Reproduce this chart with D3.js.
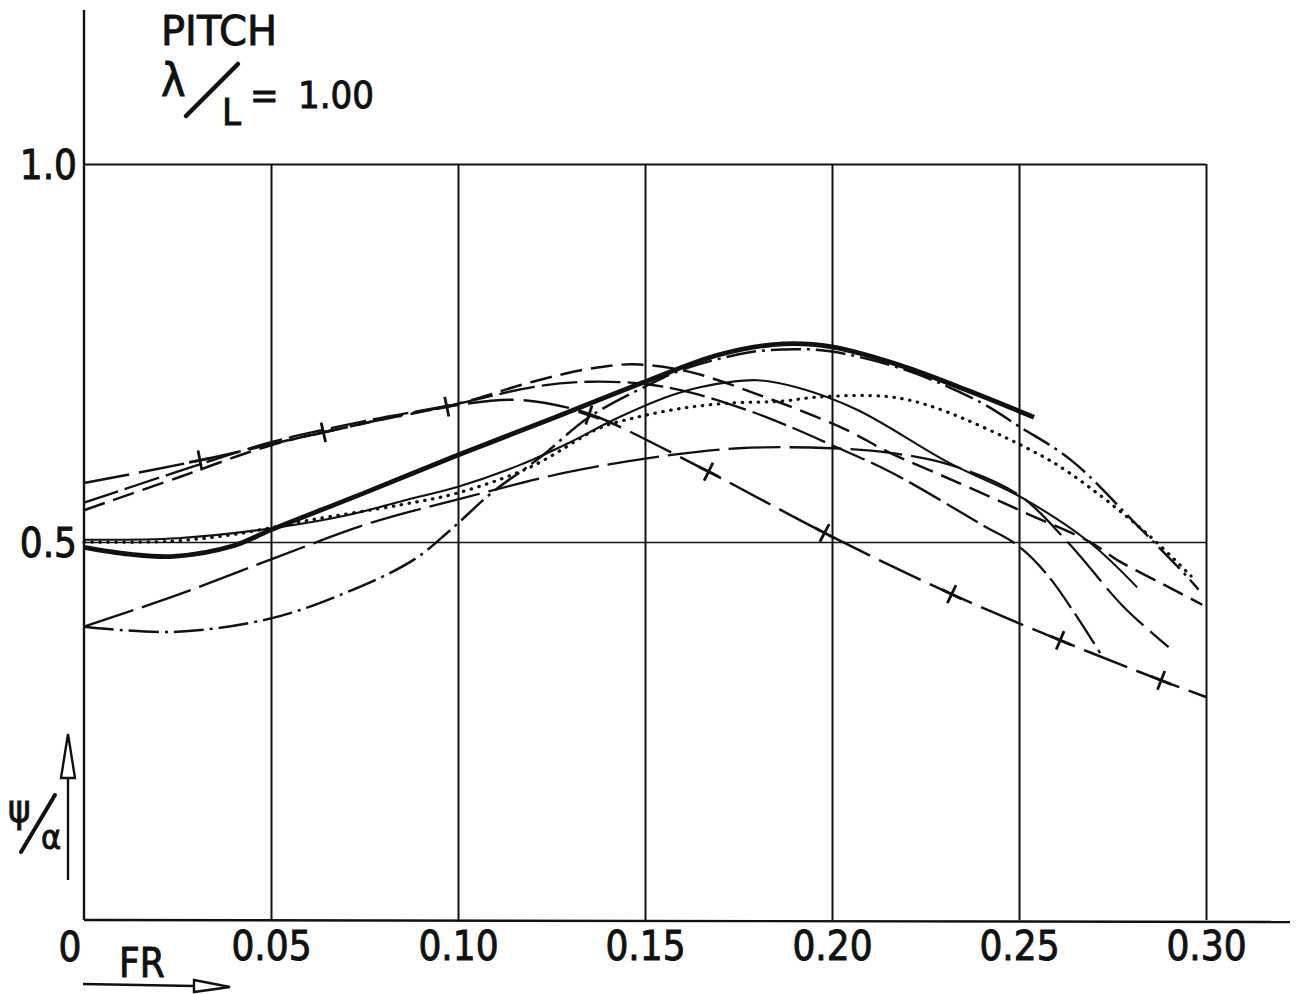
<!DOCTYPE html>
<html>
<head>
<meta charset="utf-8">
<script src="https://cdn.jsdelivr.net/npm/d3@7"></script>
<style>
  html, body { margin: 0; padding: 0; background: #fff; }
  svg { display: block; }
  text { font-family: "DejaVu Sans Condensed", "Liberation Sans Narrow", "DejaVu Sans", sans-serif; font-stretch: condensed; fill: #111; stroke: #111; stroke-width: 0.9px; }
</style>
</head>
<body>
<svg id="chart" width="1301" height="994"></svg>
<script>
// Pitch response psi/alpha against Froude number, lambda/L = 1.00

const frTicks = [0.05, 0.10, 0.15, 0.20, 0.25, 0.30];
const psiTicks = [0.5, 1.0];

// heavy solid curve
const frA  = [0, 0.012, 0.024, 0.04, 0.05, 0.075, 0.10, 0.125, 0.15, 0.17, 0.187, 0.20, 0.218, 0.236, 0.254];
const psiA = [0.493, 0.484, 0.481, 0.495, 0.516, 0.565, 0.615, 0.663, 0.712, 0.748, 0.762, 0.758, 0.734, 0.701, 0.665];

// long dash-dot curve
const frB  = [0, 0.024, 0.05, 0.07, 0.088, 0.098, 0.109, 0.122, 0.135, 0.151, 0.16, 0.178, 0.191, 0.20, 0.22, 0.24, 0.25, 0.264, 0.282, 0.295, 0.298];
const psiB = [0.388, 0.381, 0.399, 0.433, 0.476, 0.516, 0.565, 0.612, 0.665, 0.708, 0.728, 0.751, 0.755, 0.752, 0.727, 0.684, 0.653, 0.608, 0.52, 0.454, 0.437];

// dashed curve with cross marks
const frC  = [0, 0.031, 0.064, 0.097, 0.116, 0.13, 0.138, 0.167, 0.198, 0.232, 0.261, 0.288, 0.30];
const psiC = [0.578, 0.608, 0.645, 0.679, 0.688, 0.677, 0.664, 0.593, 0.512, 0.431, 0.370, 0.317, 0.295];
const crossFR  = [0.031, 0.064, 0.097, 0.135, 0.167, 0.198, 0.232, 0.261, 0.288];
const crossPsi = [0.608, 0.645, 0.679, 0.668, 0.593, 0.512, 0.431, 0.370, 0.317];

// short-dash curve, early peak
const frD  = [0, 0.025, 0.05, 0.075, 0.10, 0.12, 0.135, 0.147, 0.162, 0.183, 0.191, 0.204, 0.2155, 0.234, 0.252, 0.269, 0.277, 0.289, 0.299];
const psiD = [0.542, 0.585, 0.628, 0.657, 0.683, 0.712, 0.729, 0.735, 0.725, 0.69, 0.675, 0.648, 0.618, 0.578, 0.538, 0.50, 0.474, 0.443, 0.417];

// long-dash curve, steep fall
const frE  = [0, 0.025, 0.05, 0.075, 0.10, 0.12, 0.135, 0.15, 0.162, 0.177, 0.189, 0.20, 0.2155, 0.2404, 0.2495, 0.258, 0.2717];
const psiE = [0.552, 0.593, 0.632, 0.66, 0.683, 0.705, 0.712, 0.709, 0.698, 0.675, 0.652, 0.628, 0.593, 0.522, 0.496, 0.454, 0.353];

// extra-long-dash curve with plateau
const frF  = [0, 0.025, 0.0516, 0.0765, 0.1013, 0.128, 0.151, 0.175, 0.20, 0.2155, 0.2316, 0.25, 0.263, 0.278, 0.29];
const psiF = [0.388, 0.43, 0.48, 0.525, 0.558, 0.591, 0.611, 0.624, 0.624, 0.618, 0.602, 0.562, 0.50, 0.414, 0.361];

// thin solid curve
const frG  = [0, 0.025, 0.05, 0.07, 0.0864, 0.10, 0.1166, 0.13, 0.1414, 0.156, 0.165, 0.18, 0.191, 0.2067, 0.2316, 0.251, 0.269, 0.2816];
const psiG = [0.503, 0.505, 0.518, 0.535, 0.556, 0.573, 0.602, 0.632, 0.661, 0.692, 0.705, 0.714, 0.704, 0.675, 0.604, 0.558, 0.499, 0.44];

// dotted curve
const frH  = [0, 0.023, 0.04, 0.0604, 0.0845, 0.10, 0.1193, 0.138, 0.147, 0.16, 0.1735, 0.186, 0.197, 0.2155, 0.228, 0.253, 0.2636, 0.284, 0.296];
const psiH = [0.50, 0.501, 0.51, 0.529, 0.549, 0.565, 0.599, 0.651, 0.664, 0.677, 0.684, 0.686, 0.692, 0.692, 0.677, 0.622, 0.591, 0.512, 0.455];

const svg = d3.select("#chart");
const W = 1301, H = 994;
svg.append("rect").attr("width", W).attr("height", H).attr("fill", "#fff");

const x = d3.scaleLinear().domain([0, 0.30]).range([84, 1206]);
const y = d3.scaleLinear().domain([0, 1]).range([920, 164]);

const ink = "#111";

// vertical grid lines and FR tick labels
const gx = svg.append("g")
  .attr("transform", `translate(0,${y(0)})`)
  .call(d3.axisBottom(x).tickValues(frTicks).tickFormat(d3.format(".2f"))
    .tickSizeInner(-(y(0) - y(1))).tickSizeOuter(0).tickPadding(12));
gx.select(".domain").remove();
gx.selectAll(".tick line").attr("stroke", ink).attr("stroke-width", 2);
gx.selectAll(".tick text").attr("font-size", 40).attr("fill", ink);

// horizontal grid lines and psi/alpha tick labels
const gy = svg.append("g")
  .attr("transform", `translate(${x(0)},0)`)
  .call(d3.axisLeft(y).tickValues(psiTicks).tickFormat(d3.format(".1f"))
    .tickSizeInner(-(x(0.30) - x(0))).tickSizeOuter(0).tickPadding(7));
gy.select(".domain").remove();
gy.selectAll(".tick line").attr("stroke", ink)
  .attr("stroke-width", d => d === 1.0 ? 2 : 1.3);
gy.selectAll(".tick text").attr("font-size", 40).attr("fill", ink).attr("dy", "0.36em");

// axes
svg.append("line").attr("x1", x(0)).attr("x2", x(0))
  .attr("y1", 10).attr("y2", y(0))
  .attr("stroke", ink).attr("stroke-width", 2.4);
svg.append("line").attr("x1", x(0)).attr("x2", x(0.30) + 84)
  .attr("y1", y(0)).attr("y2", y(0) + 2)
  .attr("stroke", ink).attr("stroke-width", 2.4);
svg.append("text").attr("x", x(0) - 14).attr("y", y(0) + 41)
  .attr("text-anchor", "middle").attr("font-size", 40).text("0");

// curves
const line = d3.line()
  .x(d => x(d[0])).y(d => y(d[1]))
  .curve(d3.curveCatmullRom.alpha(0.5));

const curves = [
  { fr: frA, psi: psiA, w: 4.8, dash: null },
  { fr: frB, psi: psiB, w: 2.5, dash: "30,6,3,6" },
  { fr: frC, psi: psiC, w: 2.5, dash: "46,10" },
  { fr: frD, psi: psiD, w: 2.5, dash: "22,9" },
  { fr: frE, psi: psiE, w: 2.3, dash: "36,7" },
  { fr: frF, psi: psiF, w: 2.3, dash: "52,9" },
  { fr: frG, psi: psiG, w: 2.1, dash: null },
  { fr: frH, psi: psiH, w: 3.2, dash: "0.5,7.5", cap: "round" }
];

curves.forEach(c => {
  svg.append("path")
    .datum(c.fr.map((f, i) => [f, c.psi[i]]))
    .attr("d", line)
    .attr("fill", "none")
    .attr("stroke", ink)
    .attr("stroke-width", c.w)
    .attr("stroke-dasharray", c.dash)
    .attr("stroke-linecap", c.cap || "butt")
    .attr("stroke-linejoin", "round");
});

// cross marks on the dashed curve, turned to follow the curve
function slopeAngle(fr) {
  let i = 0;
  while (i < frC.length - 2 && frC[i + 1] < fr) i++;
  const dx = x(frC[i + 1]) - x(frC[i]);
  const dy = y(psiC[i + 1]) - y(psiC[i]);
  return Math.atan2(dy, dx) * 180 / Math.PI;
}
const crosses = svg.append("g");
crossFR.forEach((f, i) => {
  const g = crosses.append("g")
    .attr("transform", `translate(${x(f)},${y(crossPsi[i])}) rotate(${slopeAngle(f)})`);
  g.append("line").attr("x1", -11).attr("x2", 11).attr("y1", 0).attr("y2", 0)
    .attr("stroke", ink).attr("stroke-width", 2.8);
  g.append("line").attr("x1", 0).attr("x2", 0).attr("y1", -10).attr("y2", 10)
    .attr("stroke", ink).attr("stroke-width", 2.8);
});

// title block
svg.append("text").attr("x", 161).attr("y", 45).attr("font-size", 40)
  .style("font-family", "'DejaVu Sans', sans-serif").style("font-stretch", "normal")
  .text("PITCH");
svg.append("text").attr("x", 161).attr("y", 96).attr("font-size", 46).text("λ");
svg.append("line").attr("x1", 186).attr("y1", 116).attr("x2", 238).attr("y2", 64)
  .attr("stroke", ink).attr("stroke-width", 4.5).attr("stroke-linecap", "round");
svg.append("text").attr("x", 222).attr("y", 125).attr("font-size", 38).text("L");
svg.append("text").attr("x", 250).attr("y", 108).attr("font-size", 38).text("=");
svg.append("text").attr("x", 298).attr("y", 108).attr("font-size", 38).text("1.00");

// y axis label with arrow
svg.append("text").attr("x", 8).attr("y", 822).attr("font-size", 38).text("ψ");
svg.append("line").attr("x1", 21).attr("y1", 852).attr("x2", 55).attr("y2", 795)
  .attr("stroke", ink).attr("stroke-width", 4).attr("stroke-linecap", "round");
svg.append("text").attr("x", 41).attr("y", 849).attr("font-size", 34).text("α");
svg.append("line").attr("x1", 68).attr("x2", 68).attr("y1", 880).attr("y2", 778)
  .attr("stroke", ink).attr("stroke-width", 2.4);
svg.append("path").attr("d", "M68,734 L75,778 L61,778 Z")
  .attr("fill", "#fff").attr("stroke", ink).attr("stroke-width", 2.4);

// x axis label with arrow
svg.append("text").attr("x", 119).attr("y", 977).attr("font-size", 40).text("FR");
svg.append("line").attr("x1", 83).attr("y1", 984).attr("x2", 194).attr("y2", 986)
  .attr("stroke", ink).attr("stroke-width", 2.4);
svg.append("path").attr("d", "M230,987 L194,980 L194,992 Z")
  .attr("fill", "#fff").attr("stroke", ink).attr("stroke-width", 2.4);
</script>
</body>
</html>
